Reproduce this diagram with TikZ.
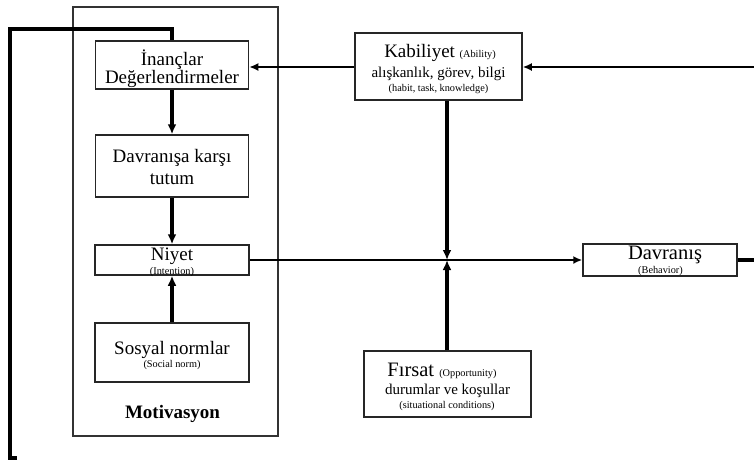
\documentclass[tikz,border=0pt]{standalone}
\usepackage{fontspec}
\setmainfont{Liberation Serif}
\usetikzlibrary{arrows.meta}
\newcommand{\bigtxt}{\fontsize{19}{22}\selectfont}
\newcommand{\hugetxt}{\fontsize{20.5}{22}\selectfont}
\newcommand{\midtxt}{\fontsize{15}{17}\selectfont}
\newcommand{\smalltxt}{\fontsize{10.3}{12}\selectfont}
\begin{document}
\begin{tikzpicture}[x=1pt,y=-1pt,
  box/.style={draw=black!85,line width=1.5pt,inner sep=0pt},
  txt/.style={anchor=base,inner sep=0pt},
  link/.style={line width=2.3pt,-{Latex[length=9pt,width=8pt]}},
  heavy/.style={line width=3.4pt,-{Latex[length=10pt,width=9pt]}}]
\useasboundingbox (0,0) rectangle (754,459);

% Motivasyon block
\node[draw=black!80,line width=1.2pt,minimum width=205,minimum height=429] (motiv) at (175.5,221.5) {};
\node[box,minimum width=153,minimum height=48] (inanc) at (172,65) {};
\node[box,minimum width=153,minimum height=62] (tutum) at (172,166) {};
\node[box,minimum width=154,minimum height=30] (niyet) at (172,260) {};
\node[box,minimum width=154,minimum height=59] (sosyal) at (172,352.5) {};

\node[txt,font=\bigtxt] (inanc1) at (172,65) {İnançlar};
\node[txt,font=\bigtxt] (inanc2) at (172,83) {Değerlendirmeler};
\node[txt,font=\bigtxt] (tutum1) at (172,162) {Davranışa karşı};
\node[txt,font=\bigtxt] (tutum2) at (172,184) {tutum};
\node[txt,font=\bigtxt] (niyet1) at (172,260) {Niyet};
\node[txt,font=\smalltxt] (niyet2) at (172,274) {(Intention)};
\node[txt,font=\bigtxt] (sosyal1) at (172,354) {Sosyal normlar};
\node[txt,font=\smalltxt] (sosyal2) at (172,367) {(Social norm)};
\node[txt,font=\bigtxt\bfseries] (motivlabel) at (172.5,418) {Motivasyon};

% Kabiliyet, Firsat, Davranis
\node[box,minimum width=167,minimum height=67] (kabil) at (438.5,66.5) {};
\node[txt] (kabil1) at (440,57.7) {\bigtxt Kabiliyet \smalltxt(Ability)};
\node[txt,font=\midtxt] (kabil2) at (438.5,77.3) {alışkanlık, görev, bilgi};
\node[txt,font=\smalltxt] (kabil3) at (438.5,91) {(habit, task, knowledge)};

\node[box,minimum width=167,minimum height=66] (firsat) at (447.5,384) {};
\node[txt] (firsat1) at (442,376) {\hugetxt Fırsat \smalltxt(Opportunity)};
\node[txt,font=\midtxt] (firsat2) at (447.5,394) {durumlar ve koşullar};
\node[txt,font=\smalltxt] (firsat3) at (447,408.7) {(situational conditions)};

\node[box,minimum width=154,minimum height=32] (davr) at (660,260) {};
\node[txt,font=\hugetxt] (davr1) at (665,259) {Davranış};
\node[txt,font=\smalltxt] (davr2) at (660.5,273) {(Behavior)};

% connectors
\coordinate (cross) at (447,260);
\coordinate (rightout) at (754,260);
\coordinate (rightin) at (754,67);
\coordinate (loopend) at (17,458);
\coordinate (loopbot) at (10,458);
\coordinate (looptop) at (10,29);

\draw[heavy] (inanc) -- (tutum);
\draw[heavy] (tutum) -- (niyet);
\draw[heavy] (sosyal) -- (niyet);
\draw[link] (niyet) -- (davr);
\draw[heavy] (kabil.south -| cross) -- (cross);
\draw[heavy] (firsat.north -| cross) -- (cross);
\draw[link] (rightin) -- (kabil.east |- rightin);
\draw[link] (kabil.west |- rightin) -- (inanc.east |- rightin);
\draw[line width=3.4pt] (davr) -- (rightout);
\draw[line width=3.4pt] (loopend) -- (loopbot) -- (looptop) -| (inanc);
\end{tikzpicture}
\end{document}
